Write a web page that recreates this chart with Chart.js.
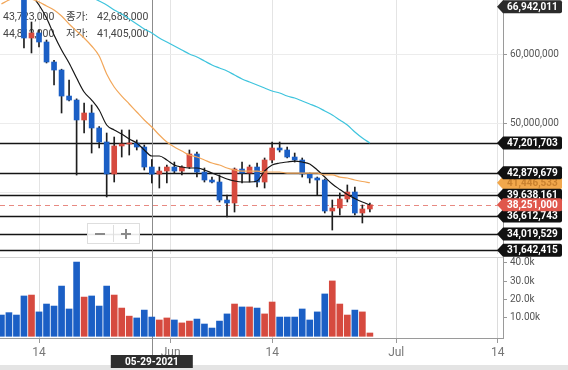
<!DOCTYPE html>
<html>
<head>
<meta charset="utf-8">
<script src="https://cdn.jsdelivr.net/npm/chart.js@4.4.0/dist/chart.umd.min.js"></script>
<style>
    html, body { margin: 0; padding: 0; background: #fff; overflow: hidden; }
    #wrap { position: relative; width: 568px; height: 370px; }
    #priceCanvas { position: absolute; left: 0; top: 0; }
    #volCanvas { position: absolute; left: 0; top: 257px; }
</style>
</head>
<body>
<div id="wrap">
    <canvas id="priceCanvas" width="568" height="257"></canvas>
    <canvas id="volCanvas" width="568" height="113"></canvas>
</div>
<script>
// daily candles, May 9 .. Jun 27 2021 (KRW)
const dates = ['05-09','05-10','05-11','05-12','05-13','05-14','05-15','05-16','05-17','05-18',
    '05-19','05-20','05-21','05-22','05-23','05-24','05-25','05-26','05-27','05-28',
    '05-29','05-30','05-31','06-01','06-02','06-03','06-04','06-05','06-06','06-07',
    '06-08','06-09','06-10','06-11','06-12','06-13','06-14','06-15','06-16','06-17',
    '06-18','06-19','06-20','06-21','06-22','06-23','06-24','06-25','06-26','06-27'];

const openPrices = [71000000,70000000,69300000,68500000,62420000,63150000,61840000,58940000,57780000,54010000,
    53430000,50540000,51550000,49380000,47350000,42710000,46770000,47060000,47200000,46620000,
    43723000,42688000,43140000,43720000,43140000,43720000,45610000,42990000,41840000,41550000,
    38940000,38510000,43430000,42850000,43720000,41550000,44740000,46480000,46190000,45170000,
    44740000,42710000,42130000,41840000,37350000,37780000,39090000,40100000,37060000,37640000];
const highPrices = [71800000,71000000,70000000,69000000,64740000,63580000,62130000,59200000,57900000,56330000,
    53600000,53000000,52710000,49600000,48650000,48070000,49090000,49090000,47640000,46910000,
    44812000,43720000,44000000,44440000,43900000,46190000,45900000,43580000,42270000,42560000,
    39670000,43580000,44440000,44010000,44300000,45030000,47350000,47350000,46620000,45750000,
    45030000,42850000,42270000,41990000,38940000,39960000,41120000,40830000,38220000,38510000];
const lowPrices = [69000000,68500000,68200000,60970000,60250000,61120000,58800000,55610000,51550000,53300000,
    42560000,48650000,45750000,46480000,39380000,41550000,45170000,45460000,46190000,43290000,
    41405000,40680000,41410000,42900000,42560000,43500000,42270000,41550000,41410000,38650000,
    36480000,37200000,41410000,41550000,40830000,40680000,44300000,45900000,45030000,44440000,
    42270000,41410000,39670000,37060000,34590000,36770000,38650000,36770000,35610000,37200000];
const closePrices = [70000000,69300000,68500000,62420000,63150000,61840000,58940000,57780000,54010000,53430000,
    50540000,51550000,49380000,47350000,42710000,46770000,47060000,47200000,46620000,43723000,
    42688000,43140000,43720000,43140000,43720000,45610000,42990000,41840000,41550000,38940000,
    38510000,43430000,42850000,43720000,41550000,44740000,46480000,46190000,45170000,44740000,
    42710000,42130000,41840000,37350000,37780000,39090000,40100000,37060000,37640000,38251000];
const volumes = [11600,12900,11600,22000,22500,13300,17600,16500,27400,14900,
    40500,21400,22000,16500,27400,22500,15400,11000,10000,14300,
    10500,8900,10000,8900,7300,8300,9400,6700,4500,8300,
    12200,17600,16000,16000,15400,12200,18700,10500,10500,10500,
    14900,8900,13300,23100,30200,17600,11600,14300,13300,1800];

// moving averages
const ma5 = [null,null,null,70200000,68650000,67200000,65320000,62860000,60680000,58800000,
    56620000,54590000,53430000,51990000,49810000,49090000,48510000,47780000,47200000,46190000,
    45320000,45320000,44740000,44010000,43720000,43580000,43580000,43290000,42850000,42420000,
    41990000,41700000,41550000,41550000,41700000,43140000,44010000,44300000,44450000,44590000,
    44450000,44160000,43290000,42270000,41260000,40470000,39740000,39160000,38650000,38220000];
const ma20 = [67350000,67930000,68360000,68510000,68070000,67640000,67060000,66480000,65610000,64450000,
    63430000,62420000,61260000,59810000,57200000,55320000,54010000,52860000,51700000,50540000,
    49520000,48360000,47350000,46620000,46040000,45460000,45170000,44740000,44300000,44010000,
    43580000,43290000,43140000,43140000,43140000,43000000,43000000,43000000,42850000,42850000,
    42850000,42850000,42850000,42570000,42570000,42270000,42130000,41840000,41620000,41446533];
const ma60 = [null,null,null,null,null,null,null,null,null,null,
    null,69110000,68360000,67780000,67200000,66480000,65900000,65170000,64450000,63720000,
    63140000,62420000,61840000,61260000,60680000,60100000,59670000,59090000,58510000,58070000,
    57640000,57060000,56480000,56040000,55610000,55170000,54740000,54450000,54010000,53720000,
    53290000,52860000,52420000,51840000,51260000,50540000,49810000,48800000,47930000,47200000];

// axis ticks (days after May 14)
const tickDays = [0, 17.5, 31, 47.5, 61];
const tickLabels = ['14', 'Jun', '14', 'Jul', '14'];
const priceTicks = [40000000, 50000000, 60000000];
const volTicks = [10000, 20000, 30000, 40000];
const volTickLabels = ['10.00k', '20.0k', '30.0k', '40.0k'];

// drawn levels and price tags
const levelLines = [47201703, 42879679, 39638161, 36612743, 34019529, 31642415];
const currentPrice = 38251000;
const topTag = 66942011;
const crossDate = '05-29';
const crossYear = '2021';

const RED = '#d64a3f';
const BLUE = '#1b5fc5';
const FONT = 'Roboto, "Noto Sans CJK KR", sans-serif';

Chart.defaults.font.family = FONT;

const dayOf = md => {
    const [m, d] = md.split('-').map(Number);
    return (Date.UTC(2021, m - 1, d) - Date.UTC(2021, 4, 14)) / 86400000;
};
const days = dates.map(dayOf);
const crossIdx = dates.indexOf(crossDate);
const upColors = days.map((d, i) => closePrices[i] >= openPrices[i] ? RED : BLUE);
const fmt = v => Math.round(v).toLocaleString('en-US');

const X_MIN = -5.186, X_MAX = 61.70;

const xTicks = s => { s.ticks = tickDays.map(v => ({ value: v })); };
// no label overhang padding: chart area must span the full panel
const noPad = s => { s.paddingTop = 0; s.paddingBottom = 0; s.paddingLeft = 0; s.paddingRight = 0; };

const drawTag = (ctx, left, py, text, bg, fg) => {
    const h = 13, w = 59;
    ctx.beginPath();
    ctx.moveTo(left - 6, py);
    ctx.lineTo(left, py - h / 2);
    ctx.lineTo(left + w - 2, py - h / 2);
    ctx.quadraticCurveTo(left + w, py - h / 2, left + w, py - h / 2 + 2);
    ctx.lineTo(left + w, py + h / 2 - 2);
    ctx.quadraticCurveTo(left + w, py + h / 2, left + w - 2, py + h / 2);
    ctx.lineTo(left, py + h / 2);
    ctx.closePath();
    ctx.fillStyle = bg;
    ctx.fill();
    ctx.fillStyle = fg;
    ctx.font = 'bold 10px ' + FONT;
    ctx.textAlign = 'left';
    ctx.textBaseline = 'middle';
    ctx.fillText(text, left + 4, py + 0.5);
};

const priceOverlay = {
    id: 'priceOverlay',
    beforeDatasetsDraw(chart) {
        const { ctx, chartArea: a, scales: { x, y } } = chart;
        ctx.save();
        // horizontal levels
        ctx.strokeStyle = '#141414';
        ctx.lineWidth = 1.5;
        levelLines.forEach(v => {
            const py = Math.round(y.getPixelForValue(v)) + 0.5;
            ctx.beginPath();
            ctx.moveTo(a.left, py);
            ctx.lineTo(a.right, py);
            ctx.stroke();
        });
        // current price
        const cp = Math.round(y.getPixelForValue(currentPrice)) + 0.5;
        ctx.strokeStyle = '#e88a82';
        ctx.lineWidth = 1;
        ctx.setLineDash([5, 4]);
        ctx.beginPath();
        ctx.moveTo(a.left, cp);
        ctx.lineTo(a.right, cp);
        ctx.stroke();
        ctx.setLineDash([]);
        // crosshair
        const cx = Math.round(x.getPixelForValue(days[crossIdx])) + 0.5;
        ctx.strokeStyle = '#8c8c8c';
        ctx.beginPath();
        ctx.moveTo(cx, 0);
        ctx.lineTo(cx, chart.height);
        ctx.stroke();
        // OHLC readout of the crosshair day
        ctx.fillStyle = '#444';
        ctx.font = '10.5px ' + FONT;
        ctx.textBaseline = 'middle';
        ctx.textAlign = 'left';
        const rows = [
            [fmt(openPrices[crossIdx]), '종가:', fmt(closePrices[crossIdx])],
            [fmt(highPrices[crossIdx]), '저가:', fmt(lowPrices[crossIdx])]
        ];
        rows.forEach((r, k) => {
            const ty = 17 + k * 17;
            ctx.fillText(r[0], 3, ty);
            ctx.fillText(r[1], 66, ty);
            ctx.fillText(r[2], 97, ty);
        });
        ctx.restore();
    },
    afterDraw(chart) {
        const { ctx, chartArea: a, scales: { y } } = chart;
        ctx.save();
        // zoom buttons
        ctx.fillStyle = 'rgba(255,255,255,0.9)';
        ctx.strokeStyle = '#dedede';
        ctx.lineWidth = 1;
        ctx.fillRect(87, 223, 52, 21);
        ctx.strokeRect(87.5, 223.5, 52, 20);
        ctx.beginPath();
        ctx.moveTo(113.5, 225);
        ctx.lineTo(113.5, 242);
        ctx.stroke();
        ctx.fillStyle = '#8a8a8a';
        ctx.fillRect(95, 233, 10, 2);
        ctx.fillRect(121, 233, 10, 2);
        ctx.fillRect(125, 229, 2, 10);
        // price tags
        const tags = [
            [ma20[ma20.length - 1], '#f2a84c', '#c9812f'],
            ...levelLines.map(v => [v, '#111', '#fff']),
            [currentPrice, '#e0574c', '#fff'],
            [topTag, '#2b2b2b', '#fff']
        ];
        tags.forEach(([v, bg, fg]) => drawTag(ctx, a.right, y.getPixelForValue(v), fmt(v), bg, fg));
        ctx.restore();
    }
};

const volOverlay = {
    id: 'volOverlay',
    beforeDatasetsDraw(chart) {
        const { ctx, chartArea: a, scales: { x } } = chart;
        ctx.save();
        ctx.strokeStyle = '#d2d2d2';
        ctx.lineWidth = 1;
        ctx.beginPath();
        ctx.moveTo(0, a.top + 0.5);
        ctx.lineTo(a.right, a.top + 0.5);
        ctx.stroke();
        const cx = Math.round(x.getPixelForValue(days[crossIdx])) + 0.5;
        ctx.strokeStyle = '#8c8c8c';
        ctx.beginPath();
        ctx.moveTo(cx, 0);
        ctx.lineTo(cx, 99);
        ctx.stroke();
        ctx.restore();
    },
    afterDraw(chart) {
        const { ctx, scales: { x } } = chart;
        ctx.save();
        ctx.fillStyle = '#e4e4e4';
        ctx.fillRect(0, 108, chart.width, 5);
        const cx = x.getPixelForValue(days[crossIdx]);
        ctx.fillStyle = '#2e2e2e';
        ctx.fillRect(cx - 41, 98, 82, 13);
        ctx.fillStyle = '#fff';
        ctx.font = 'bold 10px ' + FONT;
        ctx.textAlign = 'center';
        ctx.textBaseline = 'middle';
        ctx.fillText(crossDate + '-' + crossYear, cx, 105);
        ctx.restore();
    }
};

const lineSet = (vals, color) => ({
    type: 'line',
    data: days.map((d, i) => ({ x: d, y: vals[i] })),
    borderColor: color,
    borderWidth: 1.2,
    pointRadius: 0,
    cubicInterpolationMode: 'monotone',
    order: 0
});

new Chart(document.getElementById('priceCanvas'), {
    type: 'bar',
    data: {
        datasets: [
            lineSet(ma60, '#3ec4dd'),
            lineSet(ma20, '#f2a75a'),
            lineSet(ma5, '#161616'),
            {
                data: days.map((d, i) => ({ x: d, y: [openPrices[i], closePrices[i]] })),
                backgroundColor: upColors,
                barThickness: 5,
                minBarLength: 1,
                grouped: false,
                order: 1
            },
            {
                data: days.map((d, i) => ({ x: d, y: [lowPrices[i], highPrices[i]] })),
                backgroundColor: '#1e1e1e',
                barThickness: 1,
                grouped: false,
                order: 2
            }
        ]
    },
    options: {
        responsive: false,
        animation: false,
        events: [],
        layout: { padding: { top: 0, left: 0, right: 0, bottom: 3 } },
        plugins: { legend: { display: false }, tooltip: { enabled: false } },
        scales: {
            x: {
                type: 'linear', min: X_MIN, max: X_MAX, offset: false,
                afterBuildTicks: xTicks,
                afterFit: s => { s.height = 0; noPad(s); },
                ticks: { display: false },
                grid: { offset: false, color: '#e4e4e4', drawTicks: false },
                border: { display: false }
            },
            y: {
                position: 'right', min: 31116000, max: 67928000,
                afterBuildTicks: s => { s.ticks = priceTicks.map(v => ({ value: v })); },
                afterFit: s => { s.width = 65; noPad(s); },
                ticks: { callback: v => fmt(v), color: '#555', font: { size: 10 }, padding: 3 },
                grid: { color: '#ececec', tickLength: 4, tickColor: '#999' },
                border: { color: '#9a9a9a' }
            }
        }
    },
    plugins: [priceOverlay]
});

new Chart(document.getElementById('volCanvas'), {
    type: 'bar',
    data: {
        datasets: [{
            data: days.map((d, i) => ({ x: d, y: volumes[i] })),
            backgroundColor: upColors,
            barThickness: 6,
            grouped: false
        }]
    },
    options: {
        responsive: false,
        animation: false,
        events: [],
        layout: { padding: 0 },
        plugins: { legend: { display: false }, tooltip: { enabled: false } },
        scales: {
            x: {
                type: 'linear', min: X_MIN, max: X_MAX, offset: false,
                afterBuildTicks: xTicks,
                afterFit: s => { s.height = 32; noPad(s); },
                ticks: { autoSkip: false, maxRotation: 0, callback: (v, i) => tickLabels[i], color: '#777', font: { size: 12 }, padding: 3 },
                grid: { offset: false, color: '#dcdcdc', tickLength: 5, tickColor: '#999' },
                border: { color: '#9a9a9a' }
            },
            y: {
                position: 'right', min: -930, max: 43260,
                afterBuildTicks: s => { s.ticks = volTicks.map(v => ({ value: v })); },
                afterFit: s => { s.width = 65; noPad(s); },
                ticks: { callback: (v, i) => volTickLabels[i], color: '#555', font: { size: 10 }, padding: 3 },
                grid: { drawOnChartArea: false, tickLength: 4, tickColor: '#999' },
                border: { color: '#9a9a9a' }
            }
        }
    },
    plugins: [volOverlay]
});
</script>
</body>
</html>
